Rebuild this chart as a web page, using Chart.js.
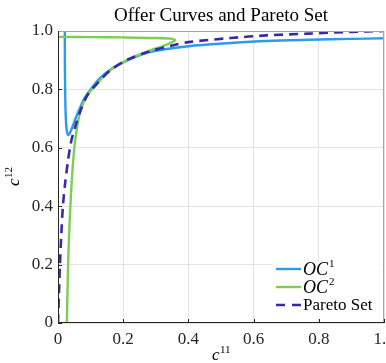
<!DOCTYPE html>
<html>
<head>
<meta charset="utf-8">
<script src="https://cdn.jsdelivr.net/npm/chart.js@4.4.1/dist/chart.umd.min.js"></script>
<style>
  html,body{margin:0;padding:0;background:#fff;}
  #wrap{width:386px;height:363px;position:relative;}
</style>
</head>
<body>
<div id="wrap"><canvas id="chart"></canvas></div>
<script>
/* Offer curves and Pareto set */

// OC1 (blue)
const oc1X = [0.021,0.021,0.022,0.023,0.025,0.028,0.031,0.035,0.042,0.052,0.065,0.080,0.100,0.130,0.170,0.210,0.280,0.400,0.530,0.640,0.770,0.900,1.000];
const oc1Y = [1.000,0.900,0.800,0.730,0.680,0.652,0.644,0.648,0.665,0.695,0.730,0.768,0.800,0.840,0.875,0.898,0.928,0.948,0.959,0.966,0.970,0.973,0.975];

// OC2 (green)
const oc2X = [0.027,0.029,0.031,0.034,0.038,0.043,0.050,0.060,0.070,0.090,0.120,0.160,0.210,0.280,0.330,0.359,0.350,0.300,0.200,0.100,0.000];
const oc2Y = [0.000,0.100,0.200,0.300,0.400,0.500,0.600,0.680,0.730,0.780,0.820,0.865,0.900,0.932,0.952,0.968,0.973,0.976,0.978,0.979,0.980];

// Pareto set (dashed)
const parX = [0.000,0.003,0.006,0.010,0.015,0.022,0.030,0.040,0.055,0.070,0.090,0.120,0.160,0.210,0.280,0.350,0.400,0.530,0.640,0.770,0.900,1.000];
const parY = [0.000,0.100,0.200,0.300,0.400,0.480,0.550,0.620,0.680,0.730,0.780,0.820,0.865,0.900,0.930,0.950,0.962,0.976,0.985,0.991,0.997,1.000];

const xTicks = [0,0.2,0.4,0.6,0.8,1];
const yTicks = [0,0.2,0.4,0.6,0.8,1];

const C = {blue:'#2b9af0', green:'#7ccf55', par:'#3a2aa8', grid:'#e3e3e3', axis:'#262626', box:'#a6a6a6', ink:'#262626'};
const SERIF = '"Liberation Serif", "DejaVu Serif", serif';

const pts = (xs, ys) => xs.map((x, i) => ({x, y: ys[i]}));

// legend entries: [base text, superscript, colour, dashed]
const legendItems = [
  ['OC', '1', C.blue, false],
  ['OC', '2', C.green, false],
  ['Pareto Set', '', C.par, true]
];

// title, axis labels with superscripts, inner ticks, box, legend
const decor = {
  id: 'decor',
  afterDatasetsDraw(chart){
    const {ctx, chartArea: a, scales} = chart;
    ctx.save();
    // inward ticks
    ctx.strokeStyle = C.axis; ctx.lineWidth = 1;
    scales.x.ticks.forEach(t => {
      const px = Math.round(scales.x.getPixelForValue(t.value)) + .5;
      ctx.beginPath(); ctx.moveTo(px, a.bottom); ctx.lineTo(px, a.bottom - 4); ctx.stroke();
    });
    scales.y.ticks.forEach(t => {
      const py = Math.round(scales.y.getPixelForValue(t.value)) + .5;
      ctx.beginPath(); ctx.moveTo(a.left, py); ctx.lineTo(a.left + 4, py); ctx.stroke();
    });
    // box: grey top/right, dark left/bottom
    ctx.strokeStyle = C.box;
    ctx.beginPath(); ctx.moveTo(a.left, a.top + .5); ctx.lineTo(a.right - .5, a.top + .5); ctx.lineTo(a.right - .5, a.bottom); ctx.stroke();
    ctx.strokeStyle = C.axis;
    ctx.beginPath(); ctx.moveTo(a.left + .5, a.top); ctx.lineTo(a.left + .5, a.bottom - .5); ctx.lineTo(a.right, a.bottom - .5); ctx.stroke();

    // legend
    const lx = a.right - 112, ly = a.bottom - 62;
    ctx.fillStyle = '#fff';
    ctx.fillRect(lx, ly, 110, 58);
    legendItems.forEach((it, i) => {
      const y = ly + 8 + i * 18;
      ctx.strokeStyle = it[2]; ctx.lineWidth = it[3] ? 2.6 : 2.4;
      ctx.setLineDash(it[3] ? [9, 7] : []);
      ctx.beginPath(); ctx.moveTo(lx + 4, y); ctx.lineTo(lx + 29, y); ctx.stroke();
      ctx.setLineDash([]);
      ctx.fillStyle = '#000'; ctx.textBaseline = 'middle'; ctx.textAlign = 'left';
      if (it[1]) {
        ctx.font = 'italic 18px ' + SERIF;
        ctx.fillText(it[0], lx + 31, y + 1);
        const w = ctx.measureText(it[0]).width;
        ctx.font = '11px ' + SERIF;
        ctx.fillText(it[1], lx + 32 + w, y - 5);
      } else {
        ctx.font = '17px ' + SERIF;
        ctx.fillText(it[0], lx + 31, y + 1);
      }
    });

    // title
    ctx.fillStyle = '#000'; ctx.textAlign = 'center'; ctx.textBaseline = 'alphabetic';
    ctx.font = '19px ' + SERIF;
    ctx.fillText('Offer Curves and Pareto Set', (a.left + a.right) / 2, 21);

    // x label c^11
    const cx = (a.left + a.right) / 2;
    ctx.font = 'italic 17px ' + SERIF; ctx.textAlign = 'left';
    ctx.fillText('c', cx - 9, 360);
    ctx.font = '11px ' + SERIF;
    ctx.fillText('11', cx - 1, 353);

    // y label c^12, rotated
    ctx.translate(19, (a.top + a.bottom) / 2);
    ctx.rotate(-Math.PI / 2);
    ctx.font = 'italic 17px ' + SERIF;
    ctx.fillText('c', -9, 0);
    ctx.font = '11px ' + SERIF;
    ctx.fillText('12', -1, -7);
    ctx.restore();
  }
};

new Chart(document.getElementById('chart'), {
  type: 'scatter',
  data: {
    datasets: [
      {label: 'OC1', data: pts(oc1X, oc1Y), borderColor: C.blue, borderWidth: 2.4, order: 3},
      {label: 'OC2', data: pts(oc2X, oc2Y), borderColor: C.green, borderWidth: 2.4, order: 2},
      {label: 'Pareto Set', data: pts(parX, parY), borderColor: C.par, borderWidth: 2.6, borderDash: [9, 6], order: 1}
    ].map(d => Object.assign(d, {showLine: true, pointRadius: 0, tension: 0.3, fill: false}))
  },
  options: {
    responsive: true, maintainAspectRatio: false, animation: false,
    layout: {padding: {top: 31, right: 2, left: 0, bottom: 0}},
    plugins: {legend: {display: false}, title: {display: false}, tooltip: {enabled: false}},
    scales: {
      x: {
        type: 'linear', min: 0, max: 1,
        afterBuildTicks: s => { s.ticks = xTicks.map(v => ({value: v})); },
        afterFit: s => { s.height = 40; s.paddingLeft = 0; s.paddingRight = 0; },
        grid: {color: C.grid, drawTicks: false},
        border: {display: false},
        ticks: {color: C.ink, padding: 6, maxRotation: 0, font: {family: SERIF, size: 17}}
      },
      y: {
        type: 'linear', min: 0, max: 1,
        afterBuildTicks: s => { s.ticks = yTicks.map(v => ({value: v})); },
        afterFit: s => { s.width = 58; s.paddingTop = 0; s.paddingBottom = 0; },
        grid: {color: C.grid, drawTicks: false},
        border: {display: false},
        ticks: {color: C.ink, padding: 5, font: {family: SERIF, size: 17}}
      }
    }
  },
  plugins: [decor]
});
</script>
</body>
</html>
